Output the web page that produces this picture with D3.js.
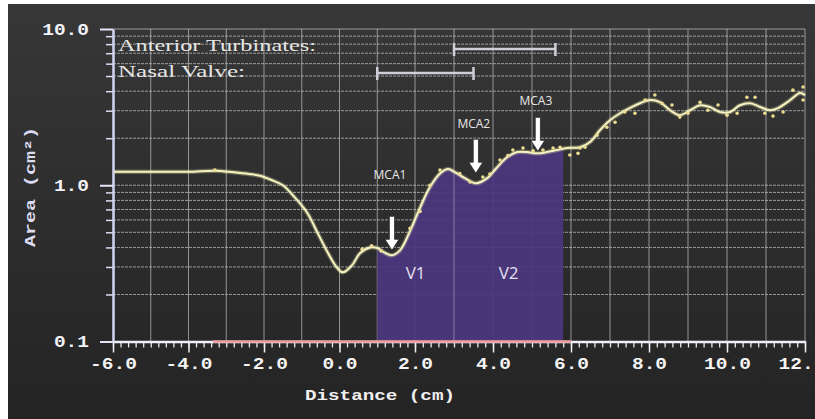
<!DOCTYPE html>
<html><head><meta charset="utf-8">
<script src="https://cdn.jsdelivr.net/npm/d3@7"></script>
<style>html,body{margin:0;padding:0;background:#fff;overflow:hidden}</style>
</head><body><svg id="c" width="815" height="419"></svg>
<script>
// ---- data ----
const distance = [-6.0,-5.0,-4.0,-3.3,-2.8,-2.4,-2.11,-1.8,-1.5,-1.23,-0.86,-0.57,-0.30,-0.07,0.09,0.33,0.54,0.81,1.02,1.20,1.39,1.60,1.87,2.13,2.38,2.64,2.85,3.03,3.28,3.56,3.85,4.10,4.36,4.62,4.87,5.13,5.38,5.64,5.90,6.23,6.49,6.74,7.0,7.26,7.51,7.77,8.03,8.28,8.54,8.79,9.05,9.31,9.56,9.82,10.08,10.33,10.59,10.85,11.10,11.31,11.62,11.87,12.0];
const area = [1.22,1.22,1.22,1.24,1.21,1.18,1.15,1.08,1.0,0.86,0.67,0.49,0.367,0.298,0.277,0.307,0.367,0.40,0.395,0.37,0.356,0.383,0.51,0.72,0.97,1.19,1.27,1.21,1.11,1.03,1.11,1.30,1.51,1.63,1.63,1.60,1.63,1.68,1.73,1.75,1.89,2.25,2.61,2.89,3.12,3.35,3.51,3.4,3.02,2.81,3.02,3.25,3.17,2.94,2.94,3.25,3.35,3.17,3.02,3.12,3.51,3.89,3.77];
const dotDistance = [-3.3,0.6,0.85,1.1,1.87,2.13,2.38,2.64,3.15,3.41,3.74,3.92,4.18,4.38,4.51,4.77,5.03,5.28,5.54,5.72,5.97,6.18,6.23,6.36,6.67,6.92,7.13,7.38,7.64,7.90,8.15,8.33,8.59,8.79,9.0,9.31,9.51,9.77,10.0,10.26,10.51,10.72,10.97,11.18,11.44,11.69,11.95,11.95];
const dotArea = [1.25,0.39,0.41,0.38,0.53,0.68,1.0,1.25,1.19,1.05,1.13,1.18,1.45,1.55,1.68,1.73,1.66,1.68,1.73,1.75,1.56,1.60,1.73,1.75,2.09,2.35,2.53,2.94,2.89,3.51,3.78,3.35,3.26,2.73,2.89,3.40,3.02,3.26,2.81,2.89,3.66,3.66,2.89,2.77,2.94,4.06,4.25,3.51];
const xTickValues = [-6,-4,-2,0,2,4,6,8,10,12];
const xTickLabels = ["-6.0","-4.0","-2.0","0.0","2.0","4.0","6.0","8.0","10.0","12."];
const yTickValues = [0.1,1,10];
const yTickLabels = ["0.1","1.0","10.0"];
const volumeNames = ["V1","V2"];
const volumeStart = [1.0,3.0];
const volumeEnd = [3.0,5.8];
const mcaNames = ["MCA1","MCA2","MCA3"];
const mcaDistance = [1.39,3.56,5.15];
const mcaArea = [0.356,1.03,1.60];
const legendNames = ["Anterior Turbinates:","Nasal Valve:"];
const legendStart = [3.0,1.0];
const legendEnd = [5.6,3.5];
const axisLabelX = "Distance (cm)";
const axisLabelY = "Area (cm²)";
const highlightStart = -3.35, highlightEnd = 6.0;

// ---- drawing ----
const svg = d3.select("#c");
const x = d3.scaleLinear().domain([-6,2,12]).range([113,415,805]);
const y = d3.scaleLog().domain([0.1,10]).range([341.5,29]);

const defs = svg.append("defs");
const g1 = defs.append("linearGradient").attr("id","bg").attr("x1",0).attr("y1",0).attr("x2",0).attr("y2",1);
g1.append("stop").attr("offset","0%").attr("stop-color","#373737");
g1.append("stop").attr("offset","100%").attr("stop-color","#242424");
defs.append("clipPath").attr("id","volclip").append("rect")
  .attr("x",x(volumeStart[0])).attr("y",0)
  .attr("width",x(volumeEnd[1])-x(volumeStart[0])).attr("height",419);

svg.append("rect").attr("x",8).attr("y",4).attr("width",807).attr("height",415).attr("fill","url(#bg)");

const [x0,x1] = [x(-6), x(12)];
const [yb,yt] = [y(0.1), y(10)];

// grid
const gridY = [0.2,0.3,0.4,0.5,0.6,0.7,0.8,0.9,1,2,3,4,5,6,7,8,9,10];
svg.append("g").selectAll("line").data(gridY).join("line")
  .attr("x1",x0).attr("x2",x1).attr("y1",d=>y(d)).attr("y2",d=>y(d))
  .attr("stroke","#cdcdcd").attr("stroke-opacity",0.68).attr("stroke-width",1)
  .attr("stroke-dasharray",d=>d===10?null:"3,1");
svg.append("g").selectAll("line").data(d3.range(-5,13,1)).join("line")
  .attr("x1",d=>x(d)).attr("x2",d=>x(d)).attr("y1",yt).attr("y2",yb)
  .attr("stroke","#cdcdcd").attr("stroke-opacity",0.65).attr("stroke-width",1);

const pts = distance.map((d,i)=>[d,area[i]]);
// volume fill
svg.append("path").datum(pts)
  .attr("clip-path","url(#volclip)")
  .attr("d", d3.area().x(d=>x(d[0])).y0(yb).y1(d=>y(d[1])).curve(d3.curveCatmullRom.alpha(0.5)))
  .attr("fill","#4b377d").attr("fill-opacity",0.94);
// separator between volumes
svg.append("line").attr("x1",x(volumeEnd[0])).attr("x2",x(volumeEnd[0]))
  .attr("y1",y(1.2)).attr("y2",yb).attr("stroke","#a8a0c0").attr("stroke-opacity",0.6);

// legend
legendNames.forEach((n,i)=>{
  const ly = [49,73][i];
  svg.append("text").attr("x",118).attr("y",[51,77][i]).text(n)
    .attr("font-family","Liberation Serif, serif").attr("font-size",17)
    .attr("fill","#e6e6e6").attr("textLength",[198,127][i]).attr("lengthAdjust","spacingAndGlyphs");
  const gg = svg.append("g").attr("stroke","#cfcfd8").attr("stroke-width",2.5);
  gg.append("line").attr("x1",x(legendStart[i])).attr("x2",x(legendEnd[i])).attr("y1",ly).attr("y2",ly);
  gg.append("line").attr("x1",x(legendStart[i])).attr("x2",x(legendStart[i])).attr("y1",ly-6).attr("y2",ly+7);
  gg.append("line").attr("x1",x(legendEnd[i])).attr("x2",x(legendEnd[i])).attr("y1",ly-6).attr("y2",ly+7);
});

// curve
const line = d3.line().x(d=>x(d[0])).y(d=>y(d[1])).curve(d3.curveCatmullRom.alpha(0.5));
svg.append("path").datum(pts).attr("d",line).attr("fill","none")
  .attr("stroke","#f3efb0").attr("stroke-opacity",0.3).attr("stroke-width",4.5);
svg.append("path").datum(pts).attr("d",line).attr("fill","none")
  .attr("stroke","#f6f3c0").attr("stroke-width",2);
svg.append("g").selectAll("circle").data(dotDistance).join("circle")
  .attr("cx",d=>x(d)).attr("cy",(d,i)=>y(dotArea[i])).attr("r",1.8)
  .attr("fill","#ebdb90");

// volume labels
volumeNames.forEach((n,i)=>{
  svg.append("text").attr("x",(x(volumeStart[i])+x(volumeEnd[i]))/2).attr("y",279)
    .attr("text-anchor","middle").attr("font-family","Open Sans, sans-serif").attr("font-size",17)
    .attr("fill","#e4e0f0").text(n);
});

// MCA arrows
const arrowGap=[5,10,2], labelLift=[37,11,12];
mcaNames.forEach((n,i)=>{
  const ax = x(mcaDistance[i]);
  const tip = y(mcaArea[i]) - arrowGap[i];
  const top = tip - 34;
  svg.append("path")
    .attr("d",`M${ax-2.6},${top}L${ax+2.6},${top}L${ax+2.6},${tip-11}L${ax+7},${tip-11}L${ax},${tip}L${ax-7},${tip-11}L${ax-2.6},${tip-11}Z`)
    .attr("fill","#ffffff").attr("stroke","#2a2a2a").attr("stroke-width",0.8);
  svg.append("text").attr("x",ax-2).attr("y",top-labelLift[i]).attr("text-anchor","middle")
    .attr("font-family","Open Sans, sans-serif").attr("font-size",12).attr("fill","#e8e8e8").text(n);
});

// axes
const mono = "Liberation Mono, monospace";
const xMinor = d3.range(-30,61).map(d=>d/5);
const gxMinor = svg.append("g").attr("transform",`translate(0,${yb})`)
  .call(d3.axisBottom(x).tickValues(xMinor).tickSize(6).tickSizeOuter(0).tickFormat(""));
gxMinor.select(".domain").remove();
gxMinor.selectAll("line").attr("stroke","#e8e8f0").attr("stroke-width",1.3);
const last = xTickLabels.length-1;
const gx = svg.append("g").attr("transform",`translate(0,${yb})`)
  .call(d3.axisBottom(x).tickValues(xTickValues).tickSize(11).tickSizeOuter(0).tickPadding(5)
    .tickFormat((d,i)=>xTickLabels[i]));
gx.select(".domain").attr("stroke","#eeeef6").attr("stroke-width",2.5);
gx.selectAll("line").attr("stroke","#eeeef6").attr("stroke-width",1.5);
gx.selectAll("text").attr("font-family",mono).attr("font-weight","bold").attr("font-size",16)
  .attr("fill","#f4f4f4").attr("textLength",(d,i)=>xTickLabels[i].length*11.7)
  .attr("lengthAdjust","spacingAndGlyphs")
  .attr("text-anchor",(d,i)=>i===last?"start":"middle")
  .attr("dx",(d,i)=>i===last?-27:0);
svg.append("line").attr("x1",x(highlightStart)).attr("x2",x(highlightEnd)).attr("y1",yb).attr("y2",yb)
  .attr("stroke","#ee9a9a").attr("stroke-width",2.5);

const yMinor = [0.2,0.3,0.4,0.5,0.6,0.7,0.8,0.9,2,3,4,5,6,7,8,9];
const gyMinor = svg.append("g").attr("transform",`translate(${x0},0)`)
  .call(d3.axisLeft(y).tickValues(yMinor).tickSize(7).tickSizeOuter(0).tickFormat(""));
gyMinor.select(".domain").remove();
gyMinor.selectAll("line").attr("stroke","#dcdcf4").attr("stroke-width",1.5);
const gy = svg.append("g").attr("transform",`translate(${x0},0)`)
  .call(d3.axisLeft(y).tickValues(yTickValues).tickSize(13).tickSizeOuter(0).tickPadding(11)
    .tickFormat((d,i)=>yTickLabels[i]));
gy.select(".domain").attr("stroke","#d4d4f6").attr("stroke-width",2.5);
gy.selectAll("line").attr("stroke","#e4e4f8").attr("stroke-width",2);
gy.selectAll("text").attr("font-family",mono).attr("font-weight","bold").attr("font-size",16)
  .attr("fill","#f2f2fa").attr("textLength",(d,i)=>yTickLabels[i].length*11.7).attr("lengthAdjust","spacingAndGlyphs");

svg.append("text").attr("x",380).attr("y",400).attr("text-anchor","middle")
  .attr("font-family",mono).attr("font-weight","bold").attr("font-size",15).attr("fill","#f0f0f0")
  .attr("textLength",150).attr("lengthAdjust","spacingAndGlyphs").text(axisLabelX);
svg.append("text").attr("transform","translate(35,187) rotate(-90)").attr("text-anchor","middle")
  .attr("font-family",mono).attr("font-weight","bold").attr("font-size",14).attr("fill","#dcdcf2")
  .attr("textLength",120).attr("lengthAdjust","spacingAndGlyphs").text(axisLabelY);
</script></body></html>
